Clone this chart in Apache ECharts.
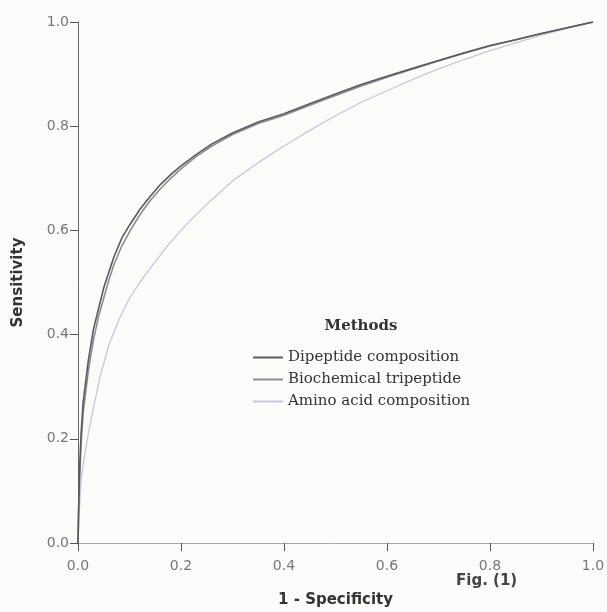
<!DOCTYPE html>
<html>
<head>
<meta charset="utf-8">
<script src="https://cdn.jsdelivr.net/npm/echarts@6/dist/echarts.min.js"></script>
<style>
html,body{margin:0;padding:0;background:#fbfbf9;}
#c{width:607px;height:612px;}
</style>
</head>
<body>
<div id="c"></div>
<script>
const seriesNames = ['Dipeptide composition', 'Biochemical tripeptide', 'Amino acid composition'];
const dipFpr = [0, 0.001, 0.003, 0.006, 0.01, 0.015, 0.02, 0.03, 0.04, 0.05, 0.06, 0.07, 0.085, 0.1, 0.12, 0.14, 0.16, 0.18, 0.2, 0.23, 0.26, 0.3, 0.35, 0.4, 0.45, 0.5, 0.55, 0.6, 0.65, 0.7, 0.75, 0.8, 0.85, 0.9, 0.95, 1.0];
const dipTpr = [0, 0.06, 0.14, 0.21, 0.27, 0.31, 0.35, 0.41, 0.45, 0.49, 0.52, 0.55, 0.585, 0.61, 0.64, 0.665, 0.688, 0.707, 0.724, 0.746, 0.766, 0.787, 0.808, 0.824, 0.843, 0.862, 0.88, 0.896, 0.911, 0.926, 0.941, 0.955, 0.966, 0.978, 0.989, 1.0];
const bioFpr = [0, 0.001, 0.003, 0.006, 0.01, 0.015, 0.02, 0.03, 0.04, 0.05, 0.06, 0.07, 0.085, 0.1, 0.12, 0.14, 0.16, 0.18, 0.2, 0.23, 0.26, 0.3, 0.35, 0.4, 0.45, 0.5, 0.55, 0.6, 0.65, 0.7, 0.75, 0.8, 0.85, 0.9, 0.95, 1.0];
const bioTpr = [0, 0.05, 0.12, 0.19, 0.25, 0.29, 0.33, 0.39, 0.435, 0.47, 0.505, 0.535, 0.57, 0.597, 0.63, 0.657, 0.68, 0.7, 0.718, 0.742, 0.762, 0.784, 0.805, 0.821, 0.84, 0.859, 0.877, 0.894, 0.91, 0.925, 0.94, 0.954, 0.966, 0.978, 0.989, 1.0];
const aaFpr = [0, 0.003, 0.006, 0.01, 0.015, 0.02, 0.03, 0.043, 0.06, 0.08, 0.1, 0.12, 0.15, 0.175, 0.2, 0.225, 0.25, 0.3, 0.35, 0.4, 0.45, 0.5, 0.55, 0.6, 0.65, 0.7, 0.75, 0.8, 0.85, 0.9, 0.95, 1.0];
const aaTpr = [0, 0.07, 0.12, 0.15, 0.18, 0.21, 0.26, 0.32, 0.38, 0.43, 0.47, 0.5, 0.54, 0.572, 0.6, 0.626, 0.65, 0.695, 0.73, 0.762, 0.792, 0.82, 0.846, 0.868, 0.89, 0.91, 0.928, 0.945, 0.96, 0.975, 0.988, 1.0];

function pairs(xs, ys){ return xs.map((x,i)=>[x, ys[i]]); }

const chart = echarts.init(document.getElementById('c'));
chart.setOption({
  backgroundColor: '#fbfbf9',
  animation: false,
  grid: {left: 78, right: 14, top: 22, bottom: 69, containLabel: false, outerBoundsMode: 'none'},
  title: {
    text: 'Methods',
    left: 356, top: 314,
    textAlign: 'center',
    textStyle: {fontFamily: 'DejaVu Serif', fontWeight: 'bold', fontSize: 15, color: '#333'}
  },
  legend: {
    orient: 'vertical',
    left: 248, top: 345,
    itemWidth: 30, itemHeight: 2, itemGap: 7,
    icon: 'rect',
    data: seriesNames,
    textStyle: {fontFamily: 'DejaVu Serif', fontSize: 15, color: '#333'}
  },
  xAxis: {
    type: 'value', min: 0, max: 1, interval: 0.2,
    name: '1 - Specificity', nameLocation: 'middle', nameGap: 50,
    nameTextStyle: {fontFamily: 'DejaVu Sans', fontWeight: 'bold', fontSize: 15, color: '#333'},
    axisLine: {show: true, lineStyle: {color: '#aaa', width: 1}},
    axisTick: {show: true, length: 8, lineStyle: {color: '#555'}},
    axisLabel: {fontFamily: 'DejaVu Sans', fontSize: 14, color: '#777', margin: 16,
      formatter: v => v.toFixed(1)},
    splitLine: {show: false}
  },
  yAxis: {
    type: 'value', min: 0, max: 1, interval: 0.2,
    name: 'Sensitivity', nameLocation: 'middle', nameGap: 52, nameRotate: 90,
    nameTextStyle: {fontFamily: 'DejaVu Sans', fontWeight: 'bold', fontSize: 15, color: '#333'},
    axisLine: {show: true, lineStyle: {color: '#666', width: 1}},
    axisTick: {show: true, length: 8, lineStyle: {color: '#555'}},
    axisLabel: {fontFamily: 'DejaVu Sans', fontSize: 14, color: '#777', margin: 9,
      formatter: v => v.toFixed(1)},
    splitLine: {show: false}
  },
  graphic: [{
    type: 'text', left: 456, top: 574,
    style: {text: 'Fig. (1)', font: 'bold 15px "DejaVu Sans"', fill: '#444'}
  }],
  series: [
    {name: seriesNames[0], type: 'line', data: pairs(dipFpr, dipTpr), showSymbol: false,
     itemStyle: {color: '#5a5a5e'}, lineStyle: {color: '#5a5a5e', width: 1.6}, z: 3},
    {name: seriesNames[1], type: 'line', data: pairs(bioFpr, bioTpr), showSymbol: false,
     itemStyle: {color: '#8c8c92'}, lineStyle: {color: '#8c8c92', width: 1.6}, z: 2},
    {name: seriesNames[2], type: 'line', data: pairs(aaFpr, aaTpr), showSymbol: false,
     itemStyle: {color: '#c8c8d6'}, lineStyle: {color: '#c8c8d6', width: 1.3}, z: 1}
  ]
});
</script>
</body>
</html>
